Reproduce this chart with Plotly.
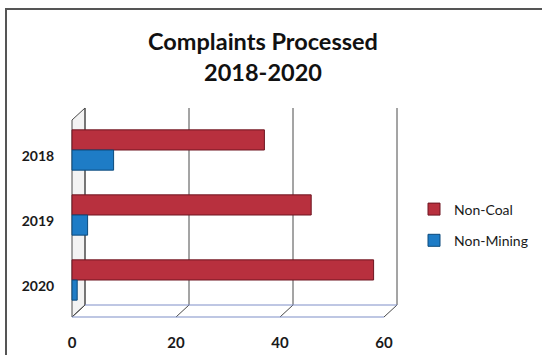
import plotly.graph_objects as go

# Chart data
years = ["2018", "2019", "2020"]
non_coal = [37, 46, 58]
non_mining = [8, 3, 1]
x_ticks = [0, 20, 40, 60]

W, H = 542, 355
# pixel layout of the plotting area
L, R, T, B = 62, 404, 108, 317
zero_px, px_per_unit = 72, 5.2
x_range = [(L - zero_px) / px_per_unit, (R - zero_px) / px_per_unit]

# pseudo-3D depth of the floor / back wall
depth_dx = 13 / px_per_unit          # in x units
depth_dy = 12 / (B - T)              # in paper units
wall_front_top = 1 - depth_dy

fig = go.Figure()
fig.add_trace(go.Bar(
    y=years, x=non_coal, orientation="h", name="Non-Coal",
    marker=dict(color="#B8303E", line=dict(color="#6E1520", width=1)),
    legendgroup="a",
))
fig.add_trace(go.Bar(
    y=years, x=non_mining, orientation="h", name="Non-Mining",
    marker=dict(color="#1E7CC6", line=dict(color="#0C4A7C", width=1)),
    legendgroup="b",
))

shapes = []
grid = dict(color="#4a4a4a", width=1)
# left wall
shapes.append(dict(type="path", xref="x", yref="paper",
                   path=f"M 0,0 L 0,{wall_front_top} L {depth_dx},1 L {depth_dx},{depth_dy} Z",
                   fillcolor="#f3f3f3", line=grid, layer="below"))
for v in x_ticks:
    # back-wall gridline
    shapes.append(dict(type="line", xref="x", yref="paper",
                       x0=v + depth_dx, x1=v + depth_dx, y0=depth_dy, y1=1,
                       line=grid, layer="below"))
    # floor diagonal
    shapes.append(dict(type="line", xref="x", yref="paper",
                       x0=v, x1=v + depth_dx, y0=0, y1=depth_dy,
                       line=grid, layer="below"))
# floor edges
shapes.append(dict(type="line", xref="x", yref="paper", x0=0, x1=x_ticks[-1], y0=0, y1=0,
                   line=dict(color="#7f8fc8", width=1.2), layer="below"))
shapes.append(dict(type="line", xref="x", yref="paper", x0=depth_dx, x1=x_ticks[-1] + depth_dx,
                   y0=depth_dy, y1=depth_dy, line=dict(color="#7f8fc8", width=1), layer="below"))
# outer frame
pw, ph = R - L, B - T
shapes.append(dict(type="rect", xref="paper", yref="paper",
                   x0=(6 - L) / pw, x1=(W + 20 - L) / pw,
                   y0=(B - H - 20) / ph, y1=(B - 9) / ph,
                   line=dict(color="#555555", width=2), layer="below"))

# category axis: 2018 on top, centres ~65 px apart
cat_px = 65
top_c = (150 - T) / cat_px
bot_c = 2 + (B - 280) / cat_px

fig.update_layout(
    width=W, height=H,
    margin=dict(l=L, r=W - R, t=T, b=H - B, autoexpand=False),
    paper_bgcolor="white", plot_bgcolor="rgba(0,0,0,0)",
    barmode="group", bargap=0.38, bargroupgap=0,
    font=dict(family="Lato", color="#1a1a1a"),
    title=dict(text="<b>Complaints Processed<br>2018-2020</b>",
               x=263 / W, xanchor="center", xref="container",
               y=1 - 50 / H, yanchor="middle", yref="container",
               font=dict(size=23.5, color="#111111", family="Lato")),
    xaxis=dict(range=x_range, tickvals=x_ticks, showgrid=False, zeroline=False,
               showline=False, ticks="outside", ticklen=12, tickcolor="rgba(0,0,0,0)",
               tickfont=dict(size=15, color="#1a1a1a", weight="bold")),
    yaxis=dict(type="category", range=[bot_c, -top_c], showgrid=False,
               showline=False, zeroline=False, ticks="outside", ticklen=4,
               tickcolor="rgba(0,0,0,0)", ticklabelshift=-6,
               tickfont=dict(size=14, color="#1a1a1a", weight="bold")),
    legend=dict(x=(414 - L) / pw, xanchor="left", y=(B - 225) / ph, yanchor="middle",
                traceorder="grouped", tracegroupgap=10, itemwidth=30,
                font=dict(size=14, color="#1a1a1a"), bgcolor="rgba(0,0,0,0)"),
    shapes=shapes,
    showlegend=True,
)

fig.write_html("out.html")
